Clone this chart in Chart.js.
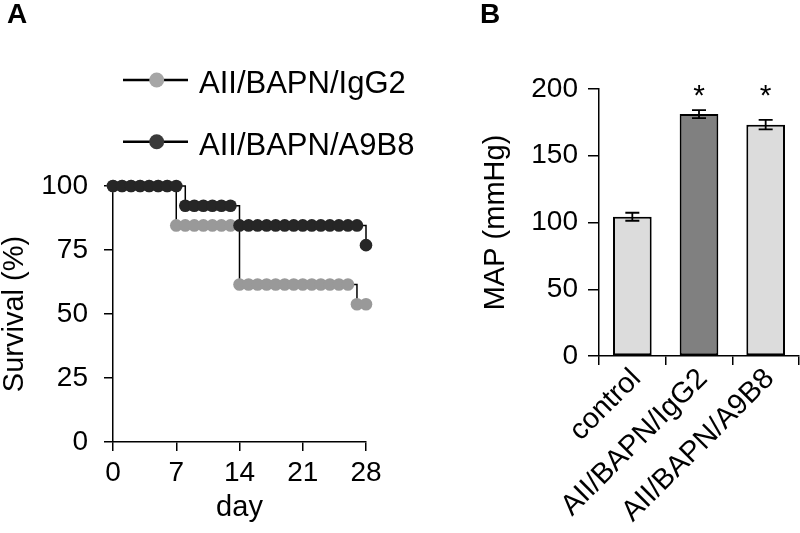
<!DOCTYPE html>
<html>
<head>
<meta charset="utf-8">
<script src="https://cdn.jsdelivr.net/npm/chart.js@4"></script>
<style>
  body { margin: 0; background: #fff; }
  #wrap { position: relative; width: 800px; height: 533px; overflow: hidden; }
  #wrap canvas { position: absolute; left: 0; top: 0; }
  .panel { position: absolute; font: bold 28px "Liberation Sans", Arial, sans-serif; line-height: 1; color: #000; }
</style>
</head>
<body>
<div id="wrap">
  <canvas id="survival" width="800" height="533"></canvas>
  <canvas id="map" width="800" height="533"></canvas>
  <div class="panel" style="left:7px;top:0px;">A</div>
  <div class="panel" style="left:480px;top:0px;">B</div>
</div>
<script>
// Panel A: survival
const days = [0, 1, 2, 3, 4, 5, 6, 7, 8, 9, 10, 11, 12, 13, 14, 15, 16, 17, 18, 19, 20, 21, 22, 23, 24, 25, 26, 27, 28];
const igg2Survival = [100, 100, 100, 100, 100, 100, 100, 84.6, 84.6, 84.6, 84.6, 84.6, 84.6, 84.6, 61.5, 61.5, 61.5, 61.5, 61.5, 61.5, 61.5, 61.5, 61.5, 61.5, 61.5, 61.5, 61.5, 53.8, 53.8];
const a9b8Survival = [100, 100, 100, 100, 100, 100, 100, 100, 92.3, 92.3, 92.3, 92.3, 92.3, 92.3, 84.6, 84.6, 84.6, 84.6, 84.6, 84.6, 84.6, 84.6, 84.6, 84.6, 84.6, 84.6, 84.6, 84.6, 76.9];
const survivalTicks = [0, 25, 50, 75, 100];
const dayTicks = [0, 7, 14, 21, 28];

// Panel B: MAP
const groups = ["control", "AII/BAPN/IgG2", "AII/BAPN/A9B8"];
const mapValues = [104.3, 181.2, 173.3];
const mapErrors = [3, 3, 3.5];
const significance = ["", "*", "*"];

const FONT = "'Liberation Sans', Arial, sans-serif";
Chart.defaults.font.family = FONT;
Chart.defaults.color = "#000";

const legendPlugin = {
  id: "lineLegend",
  afterDraw(chart) {
    const ctx = chart.ctx;
    const rows = [80, 141.7];
    ctx.save();
    chart.data.datasets.forEach((ds, i) => {
      const y = rows[i];
      ctx.strokeStyle = "#000";
      ctx.lineWidth = 2.5;
      ctx.beginPath();
      ctx.moveTo(123, y);
      ctx.lineTo(188, y);
      ctx.stroke();
      ctx.fillStyle = ds.legendColor;
      ctx.beginPath();
      ctx.arc(156.7, y, 7.5, 0, Math.PI * 2);
      ctx.fill();
      ctx.fillStyle = "#000";
      ctx.font = "31px " + FONT;
      ctx.textBaseline = "alphabetic";
      ctx.fillText(ds.label, 199, y + 13);
    });
    ctx.restore();
  }
};

new Chart(document.getElementById("survival"), {
  type: "line",
  data: {
    datasets: [
      {
        label: "AII/BAPN/IgG2",
        data: days.map((d, i) => ({ x: d, y: igg2Survival[i] })),
        borderColor: "#000",
        borderWidth: 1.5,
        pointBackgroundColor: "#999999",
        pointBorderWidth: 0,
        pointRadius: 6.3,
        stepped: "before",
        clip: false,
        order: 1,
        legendColor: "#a6a6a6"
      },
      {
        label: "AII/BAPN/A9B8",
        data: days.map((d, i) => ({ x: d, y: a9b8Survival[i] })),
        borderColor: "#000",
        borderWidth: 1.5,
        pointBackgroundColor: "#262626",
        pointBorderWidth: 0,
        pointRadius: 6.3,
        stepped: "before",
        clip: false,
        order: 0,
        legendColor: "#3a3a3a"
      }
    ]
  },
  options: {
    responsive: false,
    animation: false,
    events: [],
    layout: { padding: { top: 186, right: 434, left: 0, bottom: 0 } },
    plugins: { legend: { display: false }, tooltip: { enabled: false } },
    scales: {
      x: {
        type: "linear",
        min: 0,
        max: 28,
        afterFit: (s) => { s.height = 91; },
        afterBuildTicks: (s) => { s.ticks = dayTicks.map(v => ({ value: v })); },
        grid: { drawOnChartArea: false, tickLength: 9, color: "#000", lineWidth: 1.5 },
        border: { color: "#000", width: 1.5 },
        ticks: { font: { size: 28 }, padding: 5, maxRotation: 0 },
        title: { display: true, text: "day", font: { size: 29, lineHeight: 1.2 }, padding: { bottom: 8 } }
      },
      y: {
        min: 0,
        max: 100,
        afterFit: (s) => { s.width = 113; },
        afterBuildTicks: (s) => { s.ticks = survivalTicks.map(v => ({ value: v })); },
        grid: { drawOnChartArea: false, tickLength: 9, color: "#000", lineWidth: 1.5 },
        border: { color: "#000", width: 1.5 },
        ticks: { font: { size: 28 }, padding: 16 },
        title: { display: true, text: "Survival (%)", font: { size: 29, lineHeight: 1 }, padding: { top: 0 } }
      }
    }
  },
  plugins: [legendPlugin]
});

const errorBarPlugin = {
  id: "errorBars",
  afterDatasetsDraw(chart) {
    const ctx = chart.ctx;
    const meta = chart.getDatasetMeta(0);
    const y = chart.scales.y;
    ctx.save();
    ctx.strokeStyle = "#000";
    ctx.lineWidth = 1.8;
    meta.data.forEach((bar, i) => {
      const x = bar.x;
      const hi = y.getPixelForValue(mapValues[i] + mapErrors[i]);
      const lo = y.getPixelForValue(mapValues[i] - mapErrors[i]);
      ctx.beginPath();
      ctx.moveTo(x, hi); ctx.lineTo(x, lo);
      ctx.moveTo(x - 7, hi); ctx.lineTo(x + 7, hi);
      ctx.moveTo(x - 7, lo); ctx.lineTo(x + 7, lo);
      ctx.stroke();
      if (significance[i]) {
        ctx.fillStyle = "#000";
        ctx.font = "30px " + FONT;
        ctx.textAlign = "center";
        ctx.textBaseline = "alphabetic";
        ctx.fillText(significance[i], x, y.getPixelForValue(200) + 16);
      }
    });
    ctx.restore();
  }
};

new Chart(document.getElementById("map"), {
  type: "bar",
  data: {
    labels: groups,
    datasets: [{
      data: mapValues,
      backgroundColor: ["#dcdcdc", "#808080", "#dcdcdc"],
      borderColor: "#000",
      borderWidth: 2,
      borderSkipped: false,
      categoryPercentage: 1,
      barPercentage: 0.58
    }]
  },
  options: {
    responsive: false,
    animation: false,
    events: [],
    layout: { padding: { top: 89, right: 1, left: 480, bottom: 0 } },
    plugins: { legend: { display: false }, tooltip: { enabled: false } },
    scales: {
      x: {
        afterFit: (s) => { s.height = 177; },
        grid: { drawOnChartArea: false, offset: true, tickLength: 9, color: "#000", lineWidth: 1.5 },
        border: { color: "#000", width: 1.5 },
        ticks: { font: { size: 29 }, padding: -3, labelOffset: 4, minRotation: 45, maxRotation: 45, autoSkip: false }
      },
      y: {
        min: 0,
        max: 200,
        afterFit: (s) => { s.width = 119; },
        grid: { drawOnChartArea: false, tickLength: 11, color: "#000", lineWidth: 1.5 },
        border: { color: "#000", width: 1.5 },
        ticks: { font: { size: 28 }, padding: 10, stepSize: 50 },
        title: { display: true, text: "MAP (mmHg)", font: { size: 29, lineHeight: 1 }, padding: { top: 1 } }
      }
    }
  },
  plugins: [errorBarPlugin]
});
</script>
</body>
</html>
